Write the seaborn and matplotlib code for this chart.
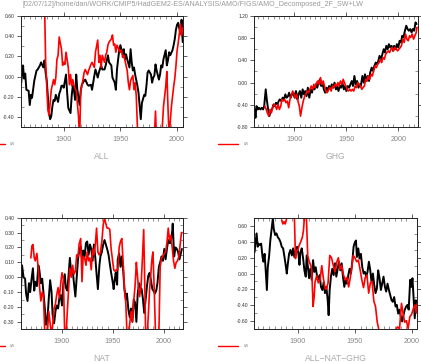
import matplotlib
matplotlib.use("Agg")
import numpy as np
import pandas as pd
import matplotlib.pyplot as plt
import seaborn as sns
from matplotlib.ticker import MultipleLocator, FormatStrFormatter
from matplotlib.lines import Line2D

# ---------------- data ----------------
all_blk_years = [1862,1864,1865,1866,1867,1869,1870,1871,1872,1874,
                 1876,1877,1879,1880,1882,1883,1884,1885,1887,1888,
                 1889,1890,1891,1892,1893,1895,1896,1897,1898,1899,
                 1900,1902,1903,1904,1906,1907,1908,1909,1910,1911,
                 1912,1914,1915,1916,1918,1919,1921,1922,1924,1925,
                 1927,1928,1930,1931,1933,1934,1936,1937,1939,1940,
                 1942,1943,1945,1946,1947,1948,1949,1950,1952,1953,
                 1954,1955,1956,1958,1959,1960,1961,1962,1963,1965,
                 1966,1967,1968,1969,1971,1972,1973,1974,1975,1977,
                 1978,1979,1980,1981,1982,1984,1985,1986,1987,1988,
                 1990,1991,1992,1993,1994,1996,1997,1998,1999,2000,
                 2001,2003,2004,2005]
all_blk_vals = [-0.11,0.11,-0.02,0.03,-0.13,-0.14,-0.28,-0.18,-0.21,-0.04,
                0.06,0.07,0.11,0.14,0.09,0.16,0.04,-0.04,-0.36,-0.42,
                -0.39,-0.29,-0.23,-0.24,-0.18,-0.25,-0.17,-0.14,-0.09,-0.09,
                -0.11,0.02,-0.16,-0.31,-0.36,-0.19,-0.09,-0.13,-0.23,0.02,
                -0.13,-0.28,-0.14,-0.08,-0.04,-0.03,-0.08,-0.09,-0.08,-0.13,
                0.01,0.07,-0.01,0.04,0.11,0.07,0.07,0.11,0.21,0.14,
                0.11,-0.01,-0.06,-0.13,0.07,0.17,0.26,0.31,0.22,0.27,
                0.17,0.22,0.17,0.09,0.27,0.14,0.06,0.09,0.02,-0.09,
                -0.16,-0.29,-0.42,-0.26,-0.18,-0.19,-0.09,0.04,0.06,0.02,
                -0.06,-0.01,0.01,0.12,0.06,-0.03,0.02,0.11,0.09,0.17,
                0.26,0.11,0.16,0.24,0.21,0.26,0.31,0.37,0.46,0.51,
                0.53,0.42,0.56,0.34]
all_red_years = [1882,1883,1884,1886,1887,1888,1889,1891,1892,1893,
                 1894,1895,1896,1898,1899,1900,1901,1902,1904,1905,
                 1906,1907,1908,1909,1911,1912,1913,1914,1915,1917,
                 1918,1919,1921,1922,1924,1925,1927,1928,1930,1931,
                 1932,1933,1934,1936,1937,1938,1939,1940,1942,1943,
                 1944,1945,1946,1947,1949,1950,1951,1952,1953,1955,
                 1956,1957,1958,1959,1961,1962,1963,1964,1965,1966,
                 1968,1970,1972,1974,1976,1978,1980,1981,1982,1984,
                 1986,1987,1988,1989,1990,1991,1992,1993,1994,1995,
                 1996,1997,1998,1999,2000,2001,2002,2003,2004,2005]
all_red_vals = [1.00,0.75,0.15,-0.33,-0.38,-0.26,-0.13,-0.03,-0.08,-0.01,
                0.17,0.21,0.39,0.27,0.11,0.14,0.12,0.24,0.09,-0.08,
                0.02,-0.09,-0.03,-0.09,-0.14,-0.26,-0.39,-0.62,-0.14,-0.03,
                0.04,0.07,0.02,0.06,0.12,0.14,0.09,0.24,0.36,0.14,
                0.21,0.09,0.21,0.14,0.21,0.24,0.31,0.34,0.37,0.41,
                0.31,0.32,0.24,0.31,0.26,0.24,0.26,0.19,0.21,0.11,
                0.06,-0.06,-0.13,-0.04,0.01,-0.13,-0.06,-0.19,-0.49,-0.62,
                -0.75,-0.80,-0.70,-0.85,-0.75,-0.80,-0.60,-0.34,-0.65,-0.80,
                -0.70,-0.50,-0.30,-0.20,-0.10,0.05,-0.30,-0.60,-0.45,-0.30,
                -0.20,-0.10,-0.02,0.10,0.25,0.33,0.42,0.52,0.40,0.48]

ghg_blk_years = [1862.0,1862.6,1863.6,1865.0,1866.0,1867.4,1868.7,1870.0,1871.0,1872.5,
                 1873.5,1874.8,1876.0,1877.3,1878.6,1880.0,1881.0,1882.4,1883.7,1885.0,
                 1886.0,1887.5,1888.8,1890.0,1891.4,1892.6,1894.0,1895.0,1896.5,1897.8,
                 1899.0,1900.3,1901.6,1903.0,1904.0,1905.4,1906.7,1908.0,1909.3,1910.5,
                 1911.8,1913.0,1914.4,1915.7,1917.0,1918.0,1919.5,1920.8,1922.0,1923.3,
                 1924.6,1925.9,1927.0,1928.4,1929.7,1931.0,1932.0,1933.5,1934.8,1936.0,
                 1937.4,1938.7,1940.0,1941.0,1942.5,1943.8,1945.0,1946.3,1947.6,1948.9,
                 1950.0,1951.4,1952.7,1954.0,1955.3,1956.5,1957.8,1959.0,1960.4,1961.7,
                 1963.0,1964.0,1965.5,1966.8,1968.0,1969.3,1970.6,1971.9,1973.0,1974.4,
                 1975.7,1977.0,1978.3,1979.6,1980.8,1982.0,1983.4,1984.7,1986.0,1987.2,
                 1988.5,1989.8,1991.0,1992.3,1993.6,1994.9,1996.0,1997.4,1998.7,2000.0,
                 2001.3,2002.6,2003.8,2005.0,2006.4,2007.7,2009.0,2010.2,2011.5,2012.8,
                 2014.0,2015.3,2016.6,2017.6]
ghg_blk_vals = [-0.48,-0.63,-0.42,-0.48,-0.45,-0.48,-0.45,-0.48,-0.42,-0.12,
                -0.30,-0.48,-0.60,-0.51,-0.48,-0.39,-0.42,-0.36,-0.39,-0.33,
                -0.30,-0.33,-0.27,-0.30,-0.21,-0.27,-0.24,-0.18,-0.27,-0.21,
                -0.18,-0.27,-0.15,-0.30,-0.21,-0.15,-0.27,-0.12,-0.21,-0.15,
                -0.24,-0.09,-0.27,-0.12,-0.18,-0.09,-0.12,-0.03,-0.09,0.00,
                0.06,-0.06,0.00,-0.12,-0.18,-0.09,-0.15,-0.06,-0.12,-0.03,
                -0.09,0.00,-0.12,-0.06,-0.15,-0.06,-0.09,0.00,-0.12,-0.06,
                -0.15,-0.06,-0.09,-0.03,0.03,-0.06,0.12,-0.03,0.03,-0.09,
                -0.03,-0.06,0.12,0.00,0.15,0.03,0.12,0.03,0.18,0.27,
                0.21,0.30,0.36,0.33,0.39,0.48,0.42,0.51,0.60,0.54,
                0.66,0.60,0.69,0.63,0.66,0.57,0.66,0.60,0.69,0.63,
                0.75,0.72,0.84,0.81,0.93,1.02,0.96,0.93,0.96,0.90,
                0.96,0.93,1.08,1.05]
ghg_red_years = [1871.6,1873.0,1874.0,1875.4,1876.7,1878.0,1879.0,1880.5,1881.8,1883.0,
                 1884.3,1885.6,1887.0,1888.0,1889.5,1890.7,1892.0,1893.3,1894.6,1895.8,
                 1897.0,1898.4,1899.7,1901.0,1902.2,1903.5,1904.8,1906.0,1907.3,1908.6,
                 1910.0,1911.0,1912.5,1913.7,1915.0,1916.3,1917.6,1918.8,1920.0,1921.4,
                 1922.7,1924.0,1925.2,1926.5,1927.8,1929.0,1930.4,1931.6,1933.0,1934.2,
                 1935.5,1936.7,1938.0,1939.3,1940.6,1941.9,1943.0,1944.4,1945.7,1947.0,
                 1948.2,1949.5,1950.8,1952.0,1953.4,1954.6,1955.9,1957.2,1958.5,1959.7,
                 1961.0,1962.3,1963.6,1964.9,1966.0,1967.4,1968.7,1970.0,1971.0,1972.5,
                 1973.8,1975.0,1976.4,1977.6,1978.9,1980.2,1981.5,1982.7,1984.0,1985.3,
                 1986.6,1987.9,1989.0,1990.4,1991.7,1993.0,1994.0,1995.5,1996.8,1998.0,
                 1999.4,2000.6,2002.0,2003.0,2004.5,2005.7,2007.0,2008.3,2009.6,2010.9,
                 2012.0,2013.4,2014.7,2016.0,2017.3,2018.0]
ghg_red_vals = [-0.42,-0.48,-0.54,-0.60,-0.48,-0.54,-0.45,-0.39,-0.42,-0.48,
                -0.39,-0.48,-0.42,-0.30,-0.33,-0.30,-0.36,-0.33,-0.45,-0.30,
                -0.24,-0.15,-0.21,-0.27,-0.21,-0.33,-0.42,-0.60,-0.45,-0.33,
                -0.24,-0.21,-0.15,-0.18,-0.12,-0.06,-0.12,-0.03,-0.09,0.00,
                0.03,-0.03,0.09,-0.03,0.03,-0.06,-0.15,-0.18,-0.12,-0.09,
                -0.15,-0.06,-0.09,-0.03,-0.06,0.00,-0.06,0.03,-0.03,0.06,
                0.00,-0.06,-0.12,-0.15,-0.12,-0.15,-0.12,-0.15,-0.06,-0.09,
                0.00,-0.03,-0.06,-0.12,-0.09,-0.06,0.06,0.03,0.12,0.06,
                0.15,0.12,0.21,0.30,0.27,0.33,0.36,0.42,0.36,0.45,
                0.42,0.51,0.54,0.57,0.54,0.60,0.63,0.57,0.63,0.60,
                0.57,0.60,0.63,0.66,0.78,0.72,0.87,0.78,0.75,0.84,
                0.81,0.87,0.78,0.84,0.90,0.99]

nat_blk_years = [1860.0,1861.0,1862.5,1864.0,1865.0,1866.4,1867.8,1869.0,1870.4,1871.7,
                 1873.0,1874.0,1875.6,1877.0,1878.0,1879.5,1880.8,1882.0,1883.4,1884.7,
                 1886.0,1887.3,1888.6,1890.0,1891.0,1892.5,1893.8,1895.0,1896.4,1897.7,
                 1899.0,1900.3,1901.6,1903.0,1904.0,1905.5,1906.8,1908.0,1909.4,1910.7,
                 1912.0,1913.4,1914.7,1916.0,1917.0,1918.6,1919.9,1921.0,1922.5,1923.8,
                 1925.0,1926.4,1927.7,1929.0,1930.3,1931.6,1933.0,1934.0,1935.5,1937.0,
                 1938.0,1939.4,1940.7,1942.0,1943.3,1944.6,1946.0,1947.2,1948.5,1950.0,
                 1951.0,1952.0,1953.0,1954.4,1955.0,1956.4,1957.7,1959.0,1960.3,1961.6,
                 1963.0,1964.0,1965.5,1966.8,1968.0,1969.4,1970.7,1972.0,1973.3,1974.6,
                 1976.0,1977.0,1978.5,1979.8,1981.0,1982.4,1983.7,1985.0,1986.3,1987.6,
                 1989.0,1990.0,1991.5,1992.8,1994.0,1995.4,1996.7,1998.0,1999.3,2000.7,
                 2002.0,2003.3,2004.6,2006.0,2007.0,2008.5,2009.0,2010.4,2011.7,2013.0,
                 2014.3,2015.6,2017.0,2018.0]
nat_blk_vals = [-0.07,0.08,0.00,-0.01,-0.11,-0.16,-0.04,-0.10,-0.01,0.06,
                -0.09,-0.03,-0.06,0.08,0.05,-0.04,-0.01,-0.10,-0.21,-0.32,
                -0.28,-0.14,-0.02,-0.10,-0.25,-0.31,-0.23,-0.19,-0.21,-0.14,
                -0.12,-0.19,-0.04,0.02,-0.07,-0.09,0.02,0.13,0.02,0.05,
                -0.04,-0.13,0.00,0.12,0.17,0.21,0.12,0.18,0.14,0.23,
                0.24,0.15,0.22,0.19,0.11,0.22,0.13,0.04,-0.08,0.08,
                0.14,0.17,0.22,0.25,0.22,0.19,0.15,0.09,0.03,-0.03,
                -0.08,-0.02,0.03,-0.05,0.12,0.16,0.07,0.14,0.05,-0.08,
                -0.15,-0.11,-0.22,-0.27,-0.21,-0.30,-0.15,-0.17,-0.30,-0.11,
                -0.04,-0.07,-0.08,-0.15,-0.24,-0.15,-0.06,0.01,0.03,-0.02,
                -0.08,-0.09,-0.11,-0.09,-0.04,0.07,0.10,0.14,0.11,0.19,
                0.12,0.19,0.25,0.23,0.23,0.31,0.36,0.14,0.20,0.19,
                0.17,0.12,0.16,0.19]
nat_red_years = [1869.7,1870.7,1871.7,1873.0,1874.0,1875.6,1877.0,1878.0,1879.5,1880.8,
                 1882.0,1883.4,1884.7,1886.0,1887.3,1888.6,1890.0,1891.0,1892.5,1893.8,
                 1895.0,1896.4,1897.7,1899.0,1900.3,1901.6,1903.0,1904.0,1905.5,1906.8,
                 1908.0,1909.4,1910.7,1912.0,1913.4,1914.7,1916.0,1917.0,1918.6,1919.9,
                 1921.0,1922.5,1923.8,1925.0,1926.4,1927.7,1929.0,1930.3,1931.6,1933.0,
                 1934.2,1935.5,1936.8,1938.0,1939.4,1940.7,1942.0,1943.3,1944.6,1945.9,
                 1947.2,1948.5,1949.8,1951.1,1952.4,1953.7,1955.0,1956.4,1957.7,1959.0,
                 1960.3,1961.6,1962.9,1964.2,1965.5,1966.8,1968.1,1969.4,1970.7,1972.0,
                 1973.3,1973.9,1975.2,1976.5,1977.9,1979.2,1980.5,1981.8,1982.4,1983.7,
                 1985.0,1986.3,1987.6,1988.3,1988.9,1989.6,1990.9,1992.2,1994.1,1995.4,
                 1996.7,1998.0,1999.3,2000.7,2002.0,2003.3,2004.6,2005.9,2007.2,2008.5,
                 2009.8,2011.1,2012.4,2013.7,2015.0,2016.3,2017.6,2018.2]
nat_red_vals = [0.13,0.21,0.22,0.13,0.11,0.16,0.05,-0.05,-0.16,-0.10,
                -0.12,-0.38,-0.40,-0.36,-0.23,-0.31,-0.38,-0.33,-0.21,-0.18,
                -0.12,-0.07,-0.14,-0.04,0.03,-0.01,-0.40,-0.42,-0.23,-0.07,
                0.06,0.00,0.08,0.02,0.04,0.15,0.14,0.22,0.26,-0.03,
                0.14,0.13,0.08,0.17,0.11,0.13,0.05,0.19,0.15,0.22,
                0.33,0.17,0.15,0.17,0.24,0.35,0.40,0.36,0.33,0.33,
                0.32,0.19,0.12,0.05,0.04,0.05,0.05,0.20,0.24,0.26,
                0.10,-0.08,-0.17,-0.40,-0.40,-0.31,-0.23,-0.30,-0.16,-0.06,
                0.10,0.05,-0.06,-0.13,-0.06,0.12,0.32,-0.13,-0.40,-0.42,
                -0.26,-0.08,0.03,0.10,0.14,0.17,-0.10,-0.40,-0.42,-0.38,
                0.07,0.13,0.14,0.16,0.17,0.23,0.33,0.25,0.28,0.20,
                0.11,0.06,0.10,0.11,0.14,0.22,0.30,0.30]

res_blk_years = [1862.2,1863.0,1864.0,1865.0,1865.7,1867.0,1868.0,1869.2,1870.0,1871.0,
                 1871.8,1873.0,1873.8,1875.0,1876.0,1877.3,1878.2,1879.0,1880.2,1881.4,
                 1882.6,1883.7,1884.9,1886.0,1887.2,1888.4,1889.5,1890.4,1891.3,1892.4,
                 1893.6,1894.8,1896.0,1897.0,1898.3,1899.4,1900.6,1901.5,1902.3,1903.5,
                 1904.7,1905.8,1907.0,1907.8,1908.7,1909.9,1911.0,1912.2,1913.4,1914.5,
                 1915.7,1916.9,1918.0,1919.2,1920.3,1921.5,1922.7,1923.8,1925.0,1926.2,
                 1927.0,1927.9,1929.0,1930.2,1931.4,1932.6,1933.7,1934.9,1936.0,1937.2,
                 1938.4,1939.5,1940.7,1941.9,1943.0,1944.2,1945.3,1946.5,1947.7,1948.8,
                 1950.0,1950.9,1951.7,1952.9,1954.0,1955.2,1956.4,1957.6,1958.7,1959.9,
                 1961.0,1962.2,1963.4,1964.5,1965.7,1966.9,1968.0,1969.2,1970.3,1971.5,
                 1972.7,1973.8,1975.0,1976.2,1977.3,1978.5,1979.7,1980.8,1982.0,1983.1,
                 1984.3,1985.5,1986.6,1987.8,1989.0,1990.1,1991.3,1992.4,1993.6,1994.8,
                 1995.9,1997.0,1998.3,1999.4,2000.3,2001.2,2002.3,2003.2,2004.0]
res_blk_vals = [0.27,0.38,0.51,0.34,0.38,0.36,0.38,0.21,0.15,0.25,
                0.08,-0.21,0.08,0.23,0.42,0.59,0.70,0.57,0.49,0.51,
                0.46,0.44,0.40,0.34,0.32,0.21,0.10,0.00,0.12,0.25,
                0.30,0.23,0.32,0.21,0.30,0.34,0.25,0.11,0.27,0.32,
                0.19,0.04,-0.04,0.23,0.11,-0.06,0.06,-0.08,0.17,0.02,
                0.08,-0.04,-0.08,-0.02,-0.17,-0.21,-0.11,-0.25,-0.17,-0.34,
                -0.53,-0.21,-0.04,0.06,-0.02,0.13,-0.04,0.06,0.15,0.04,
                0.13,-0.04,-0.17,-0.08,-0.13,-0.02,0.06,0.00,0.15,0.34,
                0.40,0.42,0.21,0.32,0.19,0.25,0.08,0.00,0.02,-0.04,
                0.02,0.15,0.04,-0.11,0.00,-0.15,-0.25,-0.19,0.04,-0.06,
                -0.21,-0.13,-0.04,-0.17,-0.23,-0.13,-0.21,-0.27,-0.34,-0.36,
                -0.30,-0.42,-0.40,-0.51,-0.46,-0.55,-0.61,-0.53,-0.46,-0.42,
                -0.40,-0.46,-0.08,-0.17,-0.06,-0.30,-0.57,-0.34,-0.38]
res_red_years = [1886.0,1887.0,1888.0,1889.0,1890.0,1891.0,1893.0,1895.0,1897.0,1898.0,
                 1899.0,1900.0,1901.0,1902.5,1904.0,1905.0,1906.0,1907.5,1908.7,1910.0,
                 1911.0,1912.2,1913.4,1914.3,1915.1,1916.5,1918.0,1919.5,1921.0,1922.3,
                 1923.8,1925.0,1926.5,1928.0,1929.5,1931.0,1932.5,1934.0,1935.5,1937.0,
                 1938.5,1940.0,1941.5,1943.0,1944.5,1946.0,1947.0,1948.5,1950.0,1951.5,
                 1953.0,1954.5,1956.0,1957.5,1959.0,1960.5,1962.0,1963.5,1965.0,1966.5,
                 1968.0,1969.5,1971.0,1973.0,1976.0,1979.0,1982.0,1985.0,1987.0,1989.0,
                 1990.7,1992.0,1993.5,1995.0,1996.5,1998.0,1999.5,2001.0,2002.5,2003.5,
                 2004.5,2005.0]
res_red_vals = [0.68,0.63,0.66,0.63,0.68,0.80,0.90,0.80,0.75,0.19,
                0.29,0.30,0.35,0.40,0.46,0.55,0.75,0.75,0.23,0.15,
                0.12,0.05,-0.42,-0.30,-0.11,-0.03,-0.12,-0.08,0.10,-0.05,
                -0.19,-0.20,-0.12,0.23,0.20,0.11,0.02,0.14,0.20,0.05,
                0.10,-0.02,-0.08,-0.05,-0.17,-0.05,0.06,0.23,0.20,0.15,
                0.17,0.05,-0.08,-0.18,-0.05,-0.02,-0.25,-0.12,-0.10,-0.35,
                -0.42,-0.62,-0.72,-0.80,-0.85,-0.80,-0.85,-0.75,-0.68,-0.70,
                -0.38,-0.50,-0.62,-0.60,-0.70,-0.55,-0.52,-0.45,-0.40,-0.50,
                -0.38,-0.50]

titles = ["ALL", "GHG", "NAT", "ALL\u2212NAT\u2212GHG"]
header = "[02/07/12]/home/dan/WORK/CMIP5/HadGEM2-ES/ANALYSIS/AMO/FIGS/AMO_Decomposed_2F_SW+LW"
legend_label = "LW"

# ---------------- figure ----------------
sns.set_style("ticks")
plt.rcParams['font.family'] = ['Liberation Sans', 'DejaVu Sans']
W, H = 421, 362
fig = plt.figure(figsize=(W / 100, H / 100), dpi=100)

def px_rect(x0, y0, x1, y1):
    return [x0 / W, 1 - y1 / H, (x1 - x0) / W, (y1 - y0) / H]

panels = [
    dict(rect=px_rect(20.7, 15.7, 182.7, 127.3), blk=(all_blk_years, all_blk_vals),
         red=(all_red_years, all_red_vals), xlim=(1862, 2005), ylim=(-0.5, 0.6),
         ymaj=0.2, ymin=0.1, title=titles[0]),
    dict(rect=px_rect(254.3, 15.7, 417.7, 127.3), blk=(ghg_blk_years, ghg_blk_vals),
         red=(ghg_red_years, ghg_red_vals), xlim=(1861.5, 2018.7), ylim=(-0.8, 1.2),
         ymaj=0.4, ymin=0.2, title=titles[1]),
    dict(rect=px_rect(20.7, 217.7, 182.7, 329.3), blk=(nat_blk_years, nat_blk_vals),
         red=(nat_red_years, nat_red_vals), xlim=(1859.7, 2018.8), ylim=(-0.35, 0.40),
         ymaj=0.1, ymin=0.05, title=titles[2]),
    dict(rect=px_rect(254.3, 217.7, 416.7, 329.3), blk=(res_blk_years, res_blk_vals),
         red=(res_red_years, res_red_vals), xlim=(1862, 2004), ylim=(-0.71, 0.71),
         ymaj=0.2, ymin=0.1, title=titles[3]),
]

for p in panels:
    ax = fig.add_axes(p["rect"])
    by, bv = p["blk"]
    ry, rv = p["red"]
    n = min(len(by), len(bv))
    dfb = pd.DataFrame({"year": by[:n], "value": bv[:n]})
    m = min(len(ry), len(rv))
    dfr = pd.DataFrame({"year": ry[:m], "value": rv[:m]})
    sns.lineplot(data=dfb, x="year", y="value", color="black", lw=1.4,
                 ax=ax, sort=False, estimator=None)
    sns.lineplot(data=dfr, x="year", y="value", color="#ff0000", lw=1.2,
                 ax=ax, sort=False, estimator=None)
    ax.set_xlim(*p["xlim"])
    ax.set_ylim(*p["ylim"])
    ax.set_xlabel("")
    ax.set_ylabel("")
    ax.xaxis.set_major_locator(MultipleLocator(50))
    ax.xaxis.set_minor_locator(MultipleLocator(5))
    ax.yaxis.set_major_locator(MultipleLocator(p["ymaj"]))
    ax.yaxis.set_minor_locator(MultipleLocator(p["ymin"]))
    ax.yaxis.set_major_formatter(FormatStrFormatter("%.2f"))
    for s in ax.spines.values():
        s.set_visible(True)
        s.set_linewidth(0.7)
        s.set_color("#222222")
    ax.tick_params(which="major", direction="out", length=3, width=0.6,
                   top=True, right=True, color="#444444")
    ax.tick_params(which="minor", direction="in", length=2, width=0.5,
                   top=True, right=True, color="#666666")
    ax.tick_params(axis="x", labelsize=5.2, labelcolor="#888888", pad=3)
    ax.tick_params(axis="y", labelsize=3.6, labelcolor="#333333", pad=1.5)
    # title under panel
    x0, y0, w, h = p["rect"]
    ty = y0 - 29.5 / H
    fig.text(x0 + w / 2, ty, p["title"], ha="center", va="center",
             fontsize=6.2, color="#aaaaaa")
    # small legend key left-below the panel
    ly = y0 - 16.5 / H
    lx0 = x0 - 36 / W
    fig.add_artist(Line2D([lx0, lx0 + 20 / W], [ly, ly], color="#ff0000", lw=1.0,
                          transform=fig.transFigure))
    fig.text(lx0 + 25 / W, ly, legend_label, ha="left", va="center",
             fontsize=2.6, color="#888888")

fig.text(22.7 / W, 1 - 5 / H, header, ha="left", va="center",
         fontsize=5.1, color="#999999")

fig.savefig("out.png", dpi=100)
